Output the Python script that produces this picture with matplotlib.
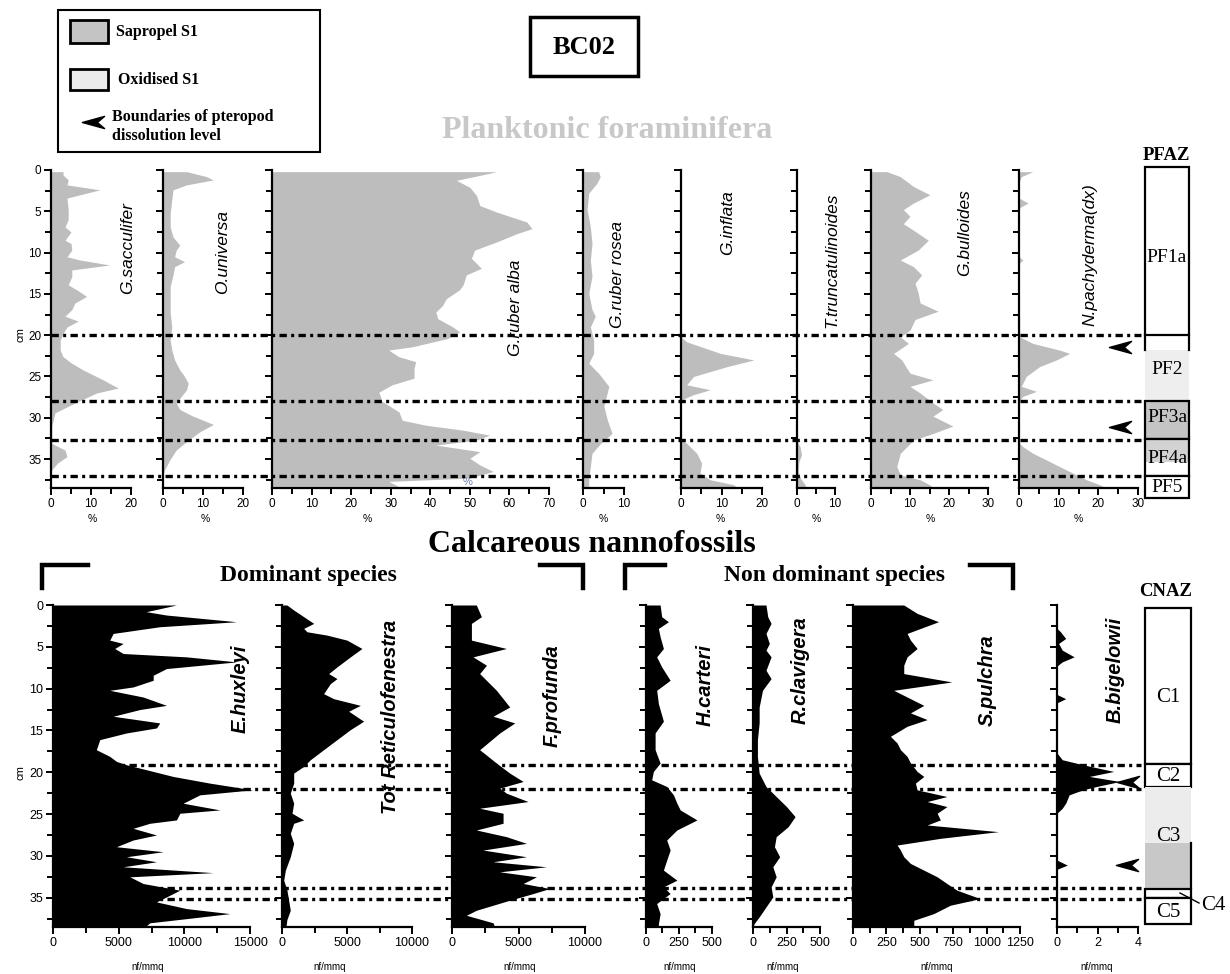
import matplotlib
matplotlib.use("Agg")
import matplotlib.pyplot as plt
import matplotlib.transforms as mtransforms
import numpy as np
from matplotlib.lines import Line2D
from matplotlib.patches import Rectangle
from matplotlib.path import Path

plt.rcParams["font.family"] = "Liberation Sans"
SERIF = "Liberation Serif"

# ---- planktonic foraminifera (%), depth in cm ----
sacc_depth = [0.2, 0.6, 1.2, 1.8, 2.4, 3.4, 4.8, 6, 6.9, 7.5, 8.5, 8.9, 9.7, 10.5, 10.9,
              11.5, 12.1, 12.9, 13.9, 14.5, 15.3, 16.1, 16.9, 17.7, 18.3, 19, 19.8, 20.6,
              21.8, 22.6, 23.4, 24.2, 25.4, 26.4, 27, 28.2, 29.4, 31, 33.1, 33.9, 34.7,
              35.5, 36.3, 37, 38.5]
sacc = [3, 3, 4.3, 4, 12.2, 4, 4.3, 4.3, 3.5, 5, 3.5, 5, 5.2, 4, 7.3,
        14.7, 5.2, 5.2, 4.3, 6.4, 8.9, 6, 5.2, 3.5, 6.8, 4, 3, 2.3,
        2.3, 3, 5.2, 8, 13, 16.8, 11.4, 6, 1, 0.2, 0.2, 3.5, 4,
        1.6, 0.2, 0, 0]

univ_depth = [0.2, 0.8, 1.2, 1.8, 2.4, 3.6, 5.2, 6.9, 8.1, 9.1, 9.7, 10.5, 11.1, 11.7, 12.7,
              14.1, 15.7, 17.3, 19, 20.6, 21.8, 23, 24.2, 25, 25.8, 26.6, 27.4, 28.2, 29,
              29.8, 30.8, 31.7, 32.7, 33.9, 35.1, 36.3, 37, 38.5]
univ = [5.9, 10.9, 12.6, 5.9, 2.5, 2.2, 1.8, 1.8, 2.5, 4.2, 3.3, 2.9, 5.4, 2.9, 2.5,
        1.8, 1.8, 1.8, 2.2, 1.8, 2.2, 2.9, 4.2, 5.4, 6.3, 5.9, 4.6, 3.3, 4.2,
        7.5, 12.6, 9.2, 6.3, 3.3, 1.7, 0.4, 0, 0]

alba_depth = [0.2, 0.5, 1.25, 2.1, 3.1, 4.3, 5.1, 6.3, 7.1, 7.7, 8.7, 9.7, 10.7, 11.9, 12.7,
              13.9, 14.5, 15.6, 16.4, 17.2, 18, 19, 19.6, 20.4, 21.4, 21.8, 22.6, 23.2, 24,
              25.2, 26, 26.9, 28, 29.3, 30.3, 30.9, 31.5, 32.1, 32.7, 33.3, 34.1, 34.9, 35.7,
              36.5, 37.3, 37.7, 38.3]
alba = [56.8, 54, 46.6, 50, 51.7, 52.5, 56.8, 64.4, 65.7, 61.9, 56.8, 51.2, 50.4, 52.9, 49.1,
        48.3, 47.4, 44, 43.1, 41.4, 41.9, 45.7, 47.4, 44.4, 35.5, 29.5, 32, 36.3, 35.9,
        35.9, 30.4, 27, 27.8, 32.1, 32.9, 38.9, 48.3, 55, 51.7, 41.4, 52.5, 50, 52.5,
        55.9, 50, 29.5, 32]

rosea_depth = [0.2, 0.8, 1.6, 2.8, 4.8, 6.9, 8.9, 10.9, 12.9, 14.9, 16.9, 17.7, 19, 20.6,
               22.2, 23.4, 24.6, 26.2, 27, 28.6, 30.2, 31.9, 33.1, 34.3, 35.9, 37.5, 38.5]
rosea = [3.8, 4.2, 3.4, 1.4, 1.0, 1.8, 2.2, 1.8, 2.2, 1.4, 2.2, 3.0, 1.8, 2.6,
         2.6, 1.4, 3.8, 6.3, 5.9, 5.1, 5.9, 7.1, 4.3, 2.2, 1.8, 1.4, 1.4]

infl_depth = [0.2, 20.2, 20.8, 22.2, 23, 23.8, 25, 26, 26.6, 27.2, 27.8, 28.2, 32.6, 33.1,
              34.3, 35.5, 36.7, 37.5, 38.1, 38.5]
infl = [0, 0, 1.4, 9.7, 18, 11.4, 3.1, 1.4, 7.2, 3.1, 0.2, 0, 0, 1.4,
        3.9, 5.1, 4.7, 7.2, 13, 14]

trunc_depth = [0.2, 32.8, 33.5, 34.5, 35.3, 36.5, 37.4, 38, 38.5]
trunc = [0, 0, 0.8, 1.2, 0.5, 0.3, 1, 2, 2.5]

bull_depth = [0.2, 0.8, 2, 3, 4, 4.8, 5.6, 6.5, 7.3, 8.5, 9.7, 10.9, 11.7, 12.7, 13.7,
              14.9, 16.1, 17.1, 18.1, 19.4, 20.2, 21, 22.2, 23, 24, 24.6, 25.4, 26.2, 27,
              28.2, 29, 29.8, 31, 31.9, 32.7, 34.3, 35.9, 36.9, 37.5, 38.1, 38.5]
bull = [4.1, 7.5, 10.9, 15.1, 10.9, 8.3, 10, 8.3, 10.9, 14.7, 12.1, 7.5, 10.9, 13, 11.3,
        12.1, 12.6, 17.2, 11.3, 10, 7.5, 9.6, 5.8, 7.9, 9.2, 10, 15.9, 10, 12.6,
        15.9, 18.4, 15.9, 21, 15.9, 10.9, 7.5, 6.6, 7.5, 12.6, 15, 16]

pachy_depth = [0.2, 0.8, 1.5, 3.4, 4, 4.6, 10.5, 10.9, 11.3, 20.2, 21, 21.8, 22.2, 23,
               23.8, 25, 26.2, 26.8, 27.4, 28, 33, 33.5, 34.3, 35.1, 35.9, 36.7, 37.5,
               38.1, 38.5]
pachy = [3.5, 0.6, 0, 0, 2.3, 0, 0, 1, 0, 0.2, 3.5, 10.2, 12.8, 9.4,
         5.2, 1.8, 0.6, 4.4, 1, 0, 0, 1, 3.5, 6.9, 10.2, 13.6, 17,
         20.3, 22]

# ---- calcareous nannofossils (nf/mmq) ----
hux_depth = [0, 0.8, 1.2, 2, 2.6, 3.4, 4.2, 4.6, 5.2, 5.8, 6.2, 6.8, 7.6, 8.4, 9,
             9.8, 10.2, 11, 12, 12.5, 13.3, 14.1, 14.7, 15.3, 16.1, 17.3, 18.1, 18.7, 19.1,
             19.7, 20.5, 21.3, 22.1, 22.7, 23.7, 24.5, 24.9, 25.7, 26.1, 26.7, 27.5, 28.1,
             28.9, 29.5, 30.1, 30.7, 31.3, 32, 32.5, 33.3, 34.1, 34.9, 35.5, 36.3, 36.9,
             37.5, 38, 38.5]
hux = [9400, 7100, 8640, 13980, 8130, 4580, 4320, 5340, 4700, 5340, 10170, 13980, 8640, 7630, 7630,
       6100, 4320, 6860, 8640, 6610, 4580, 8130, 7880, 5590, 3560, 3300, 4320, 4830, 5590,
       7120, 9150, 11950, 15200, 11180, 9910, 12710, 9660, 9400, 7370, 6100, 7880, 6100,
       4830, 8390, 5590, 7880, 5340, 12200, 5850, 6860, 9660, 8640, 7880, 10170, 13470,
       10170, 7370, 7000]

reti_depth = [0, 0.6, 1.4, 2.2, 2.8, 3.2, 3.6, 4.2, 5.2, 6.2, 7.4, 8.2, 8.8, 9.4, 10.6,
              11.2, 12, 12.7, 13.9, 14.9, 16.1, 17.3, 18.5, 19.3, 20.1, 21.3, 22.5, 23.7,
              24.9, 25.7, 26.1, 27.3, 28.5, 30.1, 31.7, 32.9, 34.1, 35.3, 36.5, 37.6, 38.5]
reti = [380, 900, 1670, 2440, 1670, 1920, 3460, 5000, 6150, 5260, 4230, 3590, 4230, 3720, 3200,
        3970, 6030, 5130, 6280, 5260, 4230, 3200, 2180, 1670, 900, 900, 640, 900,
        770, 1670, 900, 640, 900, 640, 260, 130, 380, 510, 640, 380, 300]

prof_depth = [0, 1.4, 2.2, 4.2, 5.2, 6.2, 7.2, 8.2, 10.2, 12.2, 13.3, 14.1, 15.3, 17.3, 18.9,
              20.1, 21.1, 21.9, 22.5, 23.5, 24.3, 24.9, 26.1, 26.9, 27.7, 28.5, 29.3, 30.1,
              30.7, 31.3, 31.9, 32.5, 33.3, 33.9, 34.5, 35.3, 36.5, 37.1, 38, 38.5]
prof = [1830, 2210, 1460, 1460, 4090, 1580, 2590, 2080, 3340, 4340, 3090, 4720, 3590, 2080, 3340,
        4340, 5350, 3590, 4090, 5720, 2080, 3840, 3840, 1830, 4090, 5600, 2330, 5600,
        3090, 7100, 3590, 6350, 5350, 7350, 6100, 4340, 1830, 1080, 3090, 3200]

cart_depth = [0, 1.4, 2, 2.8, 3.8, 5.2, 6.2, 7.4, 9, 10.2, 11.8, 13.9, 15.3, 17.3, 18.9,
              19.9, 20.9, 21.7, 22.7, 23.7, 24.5, 25.7, 26.9, 28.1, 29.3, 30.5, 31.7, 32.9,
              33.7, 34.5, 35.7, 36.9, 38.1, 38.5]
cart = [107, 119, 170, 94, 107, 132, 81, 119, 183, 81, 94, 132, 69, 69, 107,
        56, 43, 157, 208, 234, 259, 386, 234, 157, 183, 157, 132, 234,
        132, 183, 81, 107, 94, 94]

clav_depth = [0, 1.4, 2.2, 3.4, 4.6, 5.4, 6.2, 7.8, 8.8, 10.2, 12.2, 14.1, 16.1, 18.1, 20.1,
              21.7, 22.9, 24.1, 25.3, 26.5, 27.7, 28.9, 30.1, 31.3, 32.5, 33.7, 34.9, 36.1,
              37.3, 38.1, 38.5]
clav = [97, 110, 135, 97, 122, 97, 135, 97, 135, 71, 46, 46, 33, 33, 46,
        97, 173, 250, 314, 263, 173, 160, 199, 148, 173, 135, 148, 97,
        46, 8, 0]

pulc_depth = [0, 1, 2, 3.4, 4.2, 5.2, 6.2, 7.2, 8.2, 9.2, 10.2, 11.2, 12, 12.9, 13.7,
              14.5, 15.7, 16.5, 17.3, 18.1, 18.9, 19.9, 20.5, 21.3, 22.1, 22.9, 23.5, 24.1,
              24.9, 25.7, 26.3, 27.1, 27.9, 28.7, 29.3, 30.1, 30.9, 31.7, 32.5, 33.3, 34.1,
              35.1, 35.9, 36.9, 37.7, 38.5]
pulc = [380, 480, 640, 405, 430, 480, 405, 380, 380, 740, 305, 430, 530, 430, 555,
        405, 280, 330, 355, 405, 430, 480, 530, 467, 480, 703, 555, 703,
        630, 654, 555, 1088, 654, 330, 355, 380, 430, 530, 630, 703, 778,
        952, 728, 604, 455, 455]

bige_depth = [0, 2.8, 3.2, 4, 4.6, 5.4, 6.2, 6.8, 7.3, 10.7, 11.2, 11.7, 17.7, 18.5, 19.1,
              19.9, 20.5, 21.1, 21.7, 22.1, 22.7, 23.7, 24.3, 24.9, 30.5, 31.1, 31.6, 38.5]
bige = [0, 0, 0.17, 0.43, 0.08, 0.26, 0.85, 0.26, 0, 0, 0.43, 0, 0, 0.26, 1.28,
        2.8, 1.6, 3.1, 1.96, 1.28, 0.6, 0.43, 0.26, 0, 0, 0.51, 0, 0]

# zone boundaries (cm)
pf_bounds = [20, 28, 32.7, 37]
cn_bounds = [19.1, 22, 33.8, 35.1]

W, H = 1230, 974
fig = plt.figure(figsize=(12.3, 9.74), dpi=100)


def fx(x):
    return x / W


def fy(y):
    return 1 - y / H


def ftext(x, y, s, **kw):
    fig.text(fx(x), fy(y), s, ha=kw.pop("ha", "center"), va=kw.pop("va", "center"), **kw)


def panel(left, right, top, bottom, spine_px, xmax, major, minor, depth, vals, color, first=False, lsize=8.5):
    ax = fig.add_axes([fx(left), fy(bottom), (right - left) / W, (bottom - top) / H])
    ax.patch.set_alpha(0)
    ax.fill_betweenx(depth, 0, vals, color=color, lw=0)
    ax.set_ylim(38.5, 0)
    ax.set_xlim(0, xmax * (right - left) / spine_px)
    for s in ("top", "right"):
        ax.spines[s].set_visible(False)
    for s in ("left", "bottom"):
        ax.spines[s].set_linewidth(1.6)
    ax.spines["bottom"].set_bounds(0, xmax)
    ax.set_xticks(np.arange(0, xmax + major / 2, major))
    ax.set_xticks(np.arange(0, xmax + minor / 2, minor), minor=True)
    ax.set_yticks(np.arange(0, 36, 5))
    ax.set_yticks(np.arange(0, 38.6, 2.5), minor=True)
    ax.tick_params(which="both", direction="out", width=1.4, labelsize=lsize, pad=2)
    ax.tick_params(which="major", length=5)
    ax.tick_params(which="minor", length=4)
    ax.tick_params(axis="y", labelleft=first)
    ax.xaxis.set_major_formatter(lambda v, p: f"{v:g}")
    return ax


GREY = "#bdbdbd"
TT, TB = 170, 488   # top row pixel span for 0..38.5 cm
BT, BB = 605, 927   # bottom row

top_axes = [
    panel(51, 162, TT, TB, 80, 20, 10, 5, sacc_depth, sacc, GREY, first=True),
    panel(163, 271, TT, TB, 80, 20, 10, 5, univ_depth, univ, GREY),
    panel(272, 582, TT, TB, 277, 70, 10, 5, alba_depth, alba, GREY),
    panel(583, 680, TT, TB, 41, 10, 10, 5, rosea_depth, rosea, GREY),
    panel(681, 796, TT, TB, 81, 20, 10, 5, infl_depth, infl, GREY),
    panel(797, 870, TT, TB, 38, 10, 10, 5, trunc_depth, trunc, GREY),
    panel(871, 1018, TT, TB, 117, 30, 10, 5, bull_depth, bull, GREY),
    panel(1019, 1140, TT, TB, 119, 30, 10, 5, pachy_depth, pachy, GREY),
]

bot_axes = [
    panel(53, 281, BT, BB, 197, 15000, 5000, 2500, hux_depth, hux, "black", first=True, lsize=9),
    panel(282, 451, BT, BB, 130, 10000, 5000, 2500, reti_depth, reti, "black", lsize=9),
    panel(452, 645, BT, BB, 133, 10000, 5000, 2500, prof_depth, prof, "black", lsize=9),
    panel(646, 752, BT, BB, 66, 500, 250, 125, cart_depth, cart, "black", lsize=9),
    panel(753, 852, BT, BB, 67, 500, 250, 125, clav_depth, clav, "black", lsize=9),
    panel(853, 1056, BT, BB, 167, 1250, 250, 125, pulc_depth, pulc, "black", lsize=9),
    panel(1057, 1140, BT, BB, 81, 4, 2, 1, bige_depth, bige, "black", lsize=9),
]

# dotted zone boundaries across the panels
dash = (0, (2.2, 1.3, 0.9, 1.3))
for ax, bounds, x0 in ((top_axes[0], pf_bounds, 51), (bot_axes[0], cn_bounds, 53)):
    trans = mtransforms.blended_transform_factory(fig.transFigure, ax.transData)
    for d in bounds:
        fig.add_artist(Line2D([fx(x0), fx(1141)], [d, d], transform=trans,
                              color="black", lw=2.4, linestyle=dash, zorder=5))

# species names
top_names = [("G.sacculifer", 128, 248), ("O.universa", 223, 252), ("G.ruber alba", 515, 308),
             ("G.ruber rosea", 618, 274), ("G.inflata", 728, 223), ("T.truncatulinoides", 832, 260),
             ("G.bulloides", 965, 233), ("N.pachyderma(dx)", 1090, 255)]
for s, x, y in top_names:
    ftext(x, y, s, rotation=90, fontsize=12.5, style="italic")

bot_names = [("E.huxleyi", 240, 689), ("Tot Reticulofenestra", 390, 717), ("F.profunda", 552, 696),
             ("H.carteri", 705, 685), ("R.clavigera", 800, 670), ("S.pulchra", 987, 680),
             ("B.bigelowii", 1115, 670)]
for s, x, y in bot_names:
    ftext(x, y, s, rotation=90, fontsize=14.5, style="italic", fontweight="bold")

for x in [92, 205, 367, 603, 720, 816, 930, 1078]:
    ftext(x, 519, "%", fontsize=7.5)
ftext(468, 482, "%", fontsize=8, color="#6a7aa8")
for x in [148, 330, 520, 680, 783, 937, 1097]:
    ftext(x, 967, "nf/mmq", fontsize=7)
ftext(20, 335, "cm", rotation=90, fontsize=8)
ftext(20, 773, "cm", rotation=90, fontsize=8)

# titles
ftext(584, 47, "BC02", fontsize=19, fontweight="bold", family=SERIF)
fig.add_artist(Rectangle((fx(530), fy(76)), 108 / W, 59 / H, transform=fig.transFigure,
                         fill=False, lw=2.5, ec="black"))
ftext(607, 131, "Planktonic foraminifera", fontsize=23, fontweight="bold", family=SERIF, color="#c8c8c8")
ftext(1166, 155, "PFAZ", fontsize=13.5, fontweight="bold", family=SERIF)
ftext(592, 545, "Calcareous nannofossils", fontsize=23, fontweight="bold", family=SERIF)
ftext(308, 576, "Dominant species", fontsize=17, fontweight="bold", family=SERIF)
ftext(835, 576, "Non dominant species", fontsize=17, fontweight="bold", family=SERIF)
ftext(1166, 592, "CNAZ", fontsize=13.5, fontweight="bold", family=SERIF)

for pts in ([(42, 588), (42, 565), (88, 565)], [(540, 565), (583, 565), (583, 588)],
            [(625, 588), (625, 565), (665, 565)], [(970, 565), (1013, 565), (1013, 588)]):
    fig.add_artist(Line2D([fx(p[0]) for p in pts], [fy(p[1]) for p in pts],
                          color="black", lw=3.2, solid_joinstyle="miter"))

# arrow marker (pteropod dissolution boundaries)
arrow = Path([(-1, 0), (1, 0.55), (0.35, 0), (1, -0.55), (-1, 0)],
             [Path.MOVETO, Path.LINETO, Path.LINETO, Path.LINETO, Path.CLOSEPOLY])
for x, y in [(1120, 347), (1120, 427), (1128, 782), (1127, 865), (93, 122)]:
    fig.add_artist(Line2D([fx(x)], [fy(y)], marker=arrow, markersize=16, color="black",
                          linestyle="none"))

# legend box
fig.add_artist(Rectangle((fx(58), fy(152)), 262 / W, 142 / H, transform=fig.transFigure,
                         fill=False, lw=1.5, ec="black"))
fig.add_artist(Rectangle((fx(70), fy(43)), 38 / W, 23 / H, transform=fig.transFigure,
                         fc="#c4c4c4", lw=2, ec="black"))
fig.add_artist(Rectangle((fx(70), fy(90)), 38 / W, 21 / H, transform=fig.transFigure,
                         fc="#ececec", lw=2, ec="black"))
ftext(116, 32, "Sapropel S1", fontsize=11.5, fontweight="bold", family=SERIF, ha="left")
ftext(118, 80, "Oxidised S1", fontsize=11.5, fontweight="bold", family=SERIF, ha="left")
ftext(112, 117, "Boundaries of pteropod", fontsize=11.5, fontweight="bold", family=SERIF, ha="left")
ftext(112, 136, "dissolution level", fontsize=11.5, fontweight="bold", family=SERIF, ha="left")

# zone columns
def zone_axes(top, bottom, left, right):
    ax = fig.add_axes([fx(left), fy(bottom), (right - left) / W, (bottom - top) / H])
    ax.set_xlim(0, 1)
    ax.set_ylim(38.5, 0)
    ax.axis("off")
    return ax


def zbox(ax, y0, y1, fc="white", ec="black"):
    ax.add_patch(Rectangle((0, y0), 1, y1 - y0, fc=fc, ec=ec, lw=1.6, clip_on=False))


zt = zone_axes(TT, TB, 1145, 1189)
zbox(zt, -0.36, 20)
zbox(zt, 21.8, 28, fc="#eeeeee", ec="none")
zt.plot([0, 0], [20, 21.8], color="black", lw=1.6, clip_on=False)
zt.plot([1, 1], [20, 21.8], color="black", lw=1.6, clip_on=False)
zbox(zt, 28, 32.6, fc="#c4c4c4")
zbox(zt, 32.6, 35.3, fc="#d2d2d2", ec="none")
zbox(zt, 32.6, 37, fc="none")
zbox(zt, 37, 39.7)
for s, d in [("PF1a", 10.6), ("PF2", 24.2), ("PF3a", 30.0), ("PF4a", 34.9), ("PF5", 38.4)]:
    zt.text(0.5, d, s, ha="center", va="center", fontsize=14, family=SERIF, clip_on=False)

zb = zone_axes(BT, BB, 1145, 1191)
zbox(zb, 0.36, 19)
zbox(zb, 19, 21.8)
zbox(zb, 21.8, 28.4, fc="#ececec", ec="none")
zbox(zb, 28.4, 33.8, fc="#c8c8c8", ec="none")
zb.plot([1, 1], [28.4, 33.8], color="black", lw=1.6, clip_on=False)
zbox(zb, 33.9, 35)
zbox(zb, 35, 38.2)
for s, d in [("C1", 11), ("C2", 20.5), ("C3", 27.7), ("C5", 36.8)]:
    zb.text(0.5, d, s, ha="center", va="center", fontsize=15, family=SERIF, clip_on=False)
fig.add_artist(Line2D([fx(1180), fx(1199)], [fy(893), fy(903)], color="black", lw=1))
ftext(1213, 906, "C4", fontsize=15, family=SERIF)

fig.savefig("out.png", dpi=100)
